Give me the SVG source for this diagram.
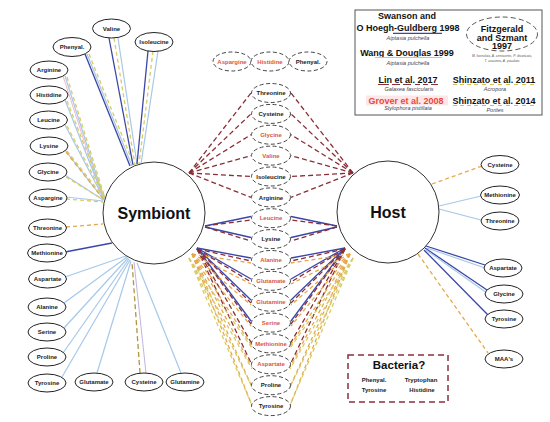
<svg xmlns="http://www.w3.org/2000/svg" width="550" height="422" viewBox="0 0 550 422">
<style>
.e{fill:#fff;stroke:#222;stroke-width:1}
.ed{fill:#fff;stroke:#444;stroke-width:1;stroke-dasharray:4 2.5}
.t{font-family:'Liberation Sans',Arial,sans-serif;font-weight:bold;font-size:6px;text-anchor:middle;fill:#222}
.r{fill:#d9583e}
.big{font-family:'Liberation Sans',Arial,sans-serif;font-weight:bold;font-size:16px;text-anchor:middle;fill:#111}
.lg{font-family:'Liberation Sans',Arial,sans-serif;font-weight:bold;font-size:9px;text-anchor:middle;fill:#111}
.sp{font-family:'Liberation Sans',Arial,sans-serif;font-style:italic;font-size:5.5px;text-anchor:middle;fill:#445}
.tiny{font-family:'Liberation Sans',Arial,sans-serif;font-style:italic;font-size:3.3px;text-anchor:middle;fill:#555}
.db{stroke:#3a46a8;stroke-width:1.3;fill:none}
.lb{stroke:#a6c8ea;stroke-width:1.2;fill:none}
.rd{stroke:#8a2f35;stroke-width:1.3;stroke-dasharray:5 3;fill:none}
.ye{stroke:#d8cc66;stroke-width:1.3;stroke-dasharray:4 3;fill:none}
.or{stroke:#e6a84a;stroke-width:1.3;stroke-dasharray:4 3;fill:none}
.pk{stroke:#f2b8c6;stroke-width:1;fill:none}
.lv{stroke:#c0b4e0;stroke-width:1;fill:none}
.ol{stroke:#b09540;stroke-width:1.3;stroke-dasharray:5 3;fill:none}
</style>
<rect width="550" height="422" fill="#fff"/>
<g id="connectors">
<line class="db" x1="85" y1="54" x2="130" y2="166"/>
<line class="lb" x1="87" y1="54" x2="132" y2="166"/>
<line class="ye" x1="89" y1="54" x2="134" y2="165"/>
<line class="db" x1="109" y1="38" x2="133" y2="165"/>
<line class="ye" x1="114" y1="38" x2="135" y2="165"/>
<line class="lb" x1="118" y1="38" x2="137" y2="164"/>
<line class="db" x1="148" y1="51" x2="137" y2="164"/>
<line class="ye" x1="153" y1="51" x2="139" y2="164"/>
<line class="lb" x1="158" y1="51" x2="141" y2="164"/>
<line class="pk" x1="63" y1="76" x2="103" y2="199"/>
<line class="lb" x1="65" y1="76" x2="104" y2="199"/>
<line class="ye" x1="67" y1="77" x2="105" y2="198"/>
<line class="lb" x1="65" y1="100" x2="104" y2="199"/>
<line class="ye" x1="67" y1="101" x2="105" y2="198"/>
<line class="lb" x1="65" y1="125" x2="104" y2="199"/>
<line class="ye" x1="67" y1="126" x2="105" y2="198"/>
<line class="lb" x1="65" y1="150" x2="104" y2="200"/>
<line class="ye" x1="67" y1="151" x2="105" y2="199"/>
<line class="or" x1="66" y1="152" x2="104" y2="200"/>
<line class="lb" x1="65" y1="175" x2="103" y2="200"/>
<line class="ye" x1="66" y1="177" x2="104" y2="200"/>
<line class="lb" x1="66" y1="197" x2="103" y2="201"/>
<line class="ye" x1="66" y1="199" x2="103" y2="202"/>
<line class="or" x1="66" y1="227" x2="103" y2="224"/>
<line class="db" x1="65" y1="252" x2="112" y2="243"/>
<line class="lb" x1="65" y1="277" x2="126" y2="256"/>
<line class="lb" x1="64" y1="303" x2="127" y2="257"/>
<line class="lb" x1="64" y1="328" x2="128" y2="258"/>
<line class="lb" x1="63" y1="353" x2="129" y2="259"/>
<line class="lb" x1="62" y1="377" x2="130" y2="260"/>
<line class="lb" x1="97" y1="373" x2="131" y2="261"/>
<line class="ol" x1="140" y1="373" x2="132" y2="262"/>
<line class="lv" x1="146" y1="373" x2="134" y2="262"/>
<line class="lb" x1="181" y1="373" x2="137" y2="263"/>
<line class="or" x1="432" y1="184" x2="482" y2="166"/>
<line class="lb" x1="439" y1="206" x2="481" y2="196"/>
<line class="lb" x1="439" y1="209" x2="481" y2="220"/>
<line class="db" x1="426" y1="246" x2="485" y2="265"/>
<line class="lb" x1="427" y1="248" x2="485" y2="268"/>
<line class="db" x1="425" y1="248" x2="487" y2="290"/>
<line class="lb" x1="426" y1="250" x2="487" y2="293"/>
<line class="db" x1="424" y1="250" x2="488" y2="315"/>
<line class="or" x1="418" y1="254" x2="488" y2="353"/>
<line class="rd" x1="189" y1="173" x2="251" y2="93"/>
<line class="rd" x1="189" y1="173" x2="251" y2="113.9"/>
<line class="rd" x1="189" y1="173" x2="251" y2="134.7"/>
<line class="rd" x1="189" y1="173" x2="251" y2="155.6"/>
<line class="rd" x1="189" y1="173" x2="251" y2="176.5"/>
<line class="rd" x1="189" y1="173" x2="251" y2="197.4"/>
<line class="db" x1="205" y1="226" x2="251" y2="216.5"/>
<line class="rd" x1="205" y1="226" x2="251" y2="220"/>
<line class="db" x1="205" y1="227" x2="251" y2="237.5"/>
<line class="rd" x1="205" y1="227" x2="251" y2="241"/>
<line class="db" x1="197" y1="248" x2="251" y2="258"/>
<line class="db" x1="197" y1="248" x2="251" y2="279"/>
<line class="db" x1="197" y1="248" x2="251" y2="300"/>
<line class="db" x1="197" y1="248" x2="251" y2="321"/>
<line class="rd" x1="197" y1="249" x2="251" y2="261"/>
<line class="rd" x1="197" y1="249" x2="251" y2="282"/>
<line class="rd" x1="197" y1="249" x2="251" y2="303"/>
<line class="rd" x1="197" y1="249" x2="251" y2="324"/>
<line class="rd" x1="197" y1="249" x2="252" y2="344"/>
<line class="rd" x1="197" y1="249" x2="252" y2="365"/>
<line class="or" x1="192" y1="254" x2="251" y2="263"/>
<line class="or" x1="192" y1="254" x2="251" y2="284"/>
<line class="or" x1="192" y1="254" x2="251" y2="305"/>
<line class="or" x1="192" y1="254" x2="251" y2="326"/>
<line class="or" x1="192" y1="254" x2="252" y2="346"/>
<line class="or" x1="192" y1="254" x2="252" y2="367"/>
<line class="or" x1="192" y1="254" x2="252" y2="387"/>
<line class="or" x1="192" y1="254" x2="253" y2="408"/>
<line class="ye" x1="189" y1="258" x2="252" y2="348"/>
<line class="ye" x1="189" y1="258" x2="252" y2="369"/>
<line class="ye" x1="189" y1="258" x2="253" y2="389"/>
<line class="ye" x1="189" y1="258" x2="254" y2="410"/>
<line class="rd" x1="353" y1="173" x2="291" y2="93"/>
<line class="rd" x1="353" y1="173" x2="291" y2="113.9"/>
<line class="rd" x1="353" y1="173" x2="291" y2="134.7"/>
<line class="rd" x1="353" y1="173" x2="291" y2="155.6"/>
<line class="rd" x1="353" y1="173" x2="291" y2="176.5"/>
<line class="rd" x1="353" y1="173" x2="291" y2="197.4"/>
<line class="db" x1="337" y1="226" x2="291" y2="216.5"/>
<line class="rd" x1="337" y1="226" x2="291" y2="220"/>
<line class="db" x1="337" y1="227" x2="291" y2="237.5"/>
<line class="rd" x1="337" y1="227" x2="291" y2="241"/>
<line class="db" x1="345" y1="248" x2="291" y2="258"/>
<line class="db" x1="345" y1="248" x2="291" y2="279"/>
<line class="db" x1="345" y1="248" x2="291" y2="300"/>
<line class="db" x1="345" y1="248" x2="291" y2="321"/>
<line class="rd" x1="345" y1="249" x2="291" y2="261"/>
<line class="rd" x1="345" y1="249" x2="291" y2="282"/>
<line class="rd" x1="345" y1="249" x2="291" y2="303"/>
<line class="rd" x1="345" y1="249" x2="291" y2="324"/>
<line class="rd" x1="345" y1="249" x2="290" y2="344"/>
<line class="rd" x1="345" y1="249" x2="290" y2="365"/>
<line class="or" x1="350" y1="254" x2="291" y2="263"/>
<line class="or" x1="350" y1="254" x2="291" y2="284"/>
<line class="or" x1="350" y1="254" x2="291" y2="305"/>
<line class="or" x1="350" y1="254" x2="291" y2="326"/>
<line class="or" x1="350" y1="254" x2="290" y2="346"/>
<line class="or" x1="350" y1="254" x2="290" y2="367"/>
<line class="or" x1="350" y1="254" x2="290" y2="387"/>
<line class="or" x1="350" y1="254" x2="289" y2="408"/>
<line class="ye" x1="353" y1="258" x2="290" y2="348"/>
<line class="ye" x1="353" y1="258" x2="290" y2="369"/>
<line class="ye" x1="353" y1="258" x2="289" y2="389"/>
<line class="ye" x1="353" y1="258" x2="288" y2="410"/>
</g>
<g id="symbiont"><circle cx="154" cy="213" r="51" fill="#fff" stroke="#333" stroke-width="1"/><text class="big" x="154" y="219">Symbiont</text></g>
<g id="host"><circle cx="388" cy="212" r="51" fill="#fff" stroke="#333" stroke-width="1"/><text class="big" x="388" y="218">Host</text></g>
<g id="l-phenyal"><ellipse class="e" cx="72" cy="47" rx="19" ry="9.5"/><text class="t" x="72" y="49.1">Phenyal.</text></g>
<g id="l-valine"><ellipse class="e" cx="111.5" cy="28.5" rx="19" ry="9.5"/><text class="t" x="111.5" y="30.6">Valine</text></g>
<g id="l-isoleucine"><ellipse class="e" cx="154" cy="42" rx="19" ry="9.5"/><text class="t" x="154" y="44.1">Isoleucine</text></g>
<g id="l-arginine"><ellipse class="e" cx="49" cy="70" rx="19" ry="9"/><text class="t" x="49" y="72.1">Arginine</text></g>
<g id="l-histidine"><ellipse class="e" cx="49" cy="95" rx="19" ry="9"/><text class="t" x="49" y="97.1">Histidine</text></g>
<g id="l-leucine"><ellipse class="e" cx="48.5" cy="120" rx="19" ry="9"/><text class="t" x="48.5" y="122.1">Leucine</text></g>
<g id="l-lysine"><ellipse class="e" cx="49" cy="146" rx="19" ry="9"/><text class="t" x="49" y="148.1">Lysine</text></g>
<g id="l-glycine"><ellipse class="e" cx="48" cy="172" rx="19" ry="9"/><text class="t" x="48" y="174.1">Glycine</text></g>
<g id="l-aspargine"><ellipse class="e" cx="48" cy="198" rx="19" ry="9"/><text class="t" x="48" y="200.1">Aspargine</text></g>
<g id="l-threonine"><ellipse class="e" cx="47.5" cy="228" rx="19" ry="9"/><text class="t" x="47.5" y="230.1">Threonine</text></g>
<g id="l-methionine"><ellipse class="e" cx="47" cy="253" rx="19.5" ry="9"/><text class="t" x="47" y="255.1">Methionine</text></g>
<g id="l-aspartate"><ellipse class="e" cx="47.5" cy="279" rx="19" ry="9"/><text class="t" x="47.5" y="281.1">Aspartate</text></g>
<g id="l-alanine"><ellipse class="e" cx="47" cy="307" rx="19" ry="9"/><text class="t" x="47" y="309.1">Alanine</text></g>
<g id="l-serine"><ellipse class="e" cx="47" cy="332" rx="19" ry="9"/><text class="t" x="47" y="334.1">Serine</text></g>
<g id="l-proline"><ellipse class="e" cx="47" cy="357" rx="19" ry="9"/><text class="t" x="47" y="359.1">Proline</text></g>
<g id="l-tyrosine"><ellipse class="e" cx="47" cy="383" rx="19" ry="9"/><text class="t" x="47" y="385.1">Tyrosine</text></g>
<g id="l-glutamate"><ellipse class="e" cx="94" cy="382" rx="19" ry="9"/><text class="t" x="94" y="384.1">Glutamate</text></g>
<g id="l-cysteine"><ellipse class="e" cx="144" cy="382" rx="19" ry="9"/><text class="t" x="144" y="384.1">Cysteine</text></g>
<g id="l-glutamine"><ellipse class="e" cx="185" cy="382" rx="19" ry="9"/><text class="t" x="185" y="384.1">Glutamine</text></g>
<g id="t-aspargine"><ellipse class="ed" cx="232" cy="61.5" rx="19" ry="9.5"/><text class="t r" x="232" y="63.6">Aspargine</text></g>
<g id="t-histidine"><ellipse class="ed" cx="270" cy="61.5" rx="19" ry="9.5"/><text class="t r" x="270" y="63.6">Histidine</text></g>
<g id="t-phenyal"><ellipse class="ed" cx="308" cy="61.5" rx="19" ry="9.5"/><text class="t" x="308" y="63.6">Phenyal.</text></g>
<g id="c-threonine"><ellipse class="ed" cx="271" cy="93" rx="19.5" ry="9.5"/><text class="t" x="271" y="95.1">Threonine</text></g>
<g id="c-cysteine"><ellipse class="ed" cx="271" cy="113.9" rx="19.5" ry="9.5"/><text class="t" x="271" y="116">Cysteine</text></g>
<g id="c-glycine"><ellipse class="ed" cx="271" cy="134.7" rx="19.5" ry="9.5"/><text class="t r" x="271" y="136.8">Glycine</text></g>
<g id="c-valine"><ellipse class="ed" cx="271" cy="155.6" rx="19.5" ry="9.5"/><text class="t r" x="271" y="157.7">Valine</text></g>
<g id="c-isoleucine"><ellipse class="ed" cx="271" cy="176.5" rx="19.5" ry="9.5"/><text class="t" x="271" y="178.6">Isoleucine</text></g>
<g id="c-arginine"><ellipse class="ed" cx="271" cy="197.4" rx="19.5" ry="9.5"/><text class="t" x="271" y="199.5">Arginine</text></g>
<g id="c-leucine"><ellipse class="ed" cx="271" cy="218.2" rx="19.5" ry="9.5"/><text class="t r" x="271" y="220.3">Leucine</text></g>
<g id="c-lysine"><ellipse class="ed" cx="271" cy="239.1" rx="19.5" ry="9.5"/><text class="t" x="271" y="241.2">Lysine</text></g>
<g id="c-alanine"><ellipse class="ed" cx="271" cy="260" rx="19.5" ry="9.5"/><text class="t r" x="271" y="262.1">Alanine</text></g>
<g id="c-glutamate"><ellipse class="ed" cx="271" cy="280.8" rx="19.5" ry="9.5"/><text class="t r" x="271" y="282.9">Glutamate</text></g>
<g id="c-glutamine"><ellipse class="ed" cx="271" cy="301.7" rx="19.5" ry="9.5"/><text class="t r" x="271" y="303.8">Glutamine</text></g>
<g id="c-serine"><ellipse class="ed" cx="271" cy="322.6" rx="19.5" ry="9.5"/><text class="t r" x="271" y="324.7">Serine</text></g>
<g id="c-methionine"><ellipse class="ed" cx="271" cy="343.4" rx="19.5" ry="9.5"/><text class="t r" x="271" y="345.5">Methionine</text></g>
<g id="c-aspartate"><ellipse class="ed" cx="271" cy="364.3" rx="19.5" ry="9.5"/><text class="t r" x="271" y="366.4">Aspartate</text></g>
<g id="c-proline"><ellipse class="ed" cx="271" cy="385.2" rx="19.5" ry="9.5"/><text class="t" x="271" y="387.3">Proline</text></g>
<g id="c-tyrosine"><ellipse class="ed" cx="271" cy="406.1" rx="19.5" ry="9.5"/><text class="t" x="271" y="408.2">Tyrosine</text></g>
<g id="r-cysteine"><ellipse class="e" cx="500" cy="164.5" rx="19" ry="9"/><text class="t" x="500" y="166.6">Cysteine</text></g>
<g id="r-methionine"><ellipse class="e" cx="500" cy="195" rx="19.5" ry="9"/><text class="t" x="500" y="197.1">Methionine</text></g>
<g id="r-threonine"><ellipse class="e" cx="500" cy="221" rx="19" ry="9"/><text class="t" x="500" y="223.1">Threonine</text></g>
<g id="r-aspartate"><ellipse class="e" cx="503" cy="268" rx="19" ry="9"/><text class="t" x="503" y="270.1">Aspartate</text></g>
<g id="r-glycine"><ellipse class="e" cx="504" cy="294" rx="19" ry="9"/><text class="t" x="504" y="296.1">Glycine</text></g>
<g id="r-tyrosine"><ellipse class="e" cx="504" cy="319" rx="19" ry="9"/><text class="t" x="504" y="321.1">Tyrosine</text></g>
<g id="r-maas"><ellipse class="e" cx="504" cy="359" rx="19" ry="9"/><text class="t" x="504" y="361.1">MAA's</text></g>
<g id="legend">
<rect x="355" y="10" width="187" height="105" fill="#fff" stroke="#555" stroke-width="1"/>
<text class="lg" x="407" y="19">Swanson and</text>
<text class="lg" x="408" y="30.5">O Hoegh-Guldberg 1998</text>
<line x1="393" y1="33.3" x2="442" y2="33.3" stroke="#3a46a8" stroke-width="1.2"/>
<text class="sp" x="408" y="40">Aiptasia pulchella</text>
<text class="lg" x="407" y="55.5">Wang &amp; Douglas 1999</text>
<line x1="375" y1="57.5" x2="442" y2="57.5" stroke="#a6c8ea" stroke-width="1.2"/>
<text class="sp" x="408" y="64.5">Aiptasia pulchella</text>
<text class="lg" x="408" y="82.5">Lin et al. 2017</text>
<path d="M378 84.5h11M392 84.5h8M403 84.5h8M415 84.5h5M423 84.5h5M431 84.5h5M434 84.5h4" stroke="#8a2f35" stroke-width="1"/>
<text class="sp" x="409" y="90.5">Galaxea fascicularis</text>
<rect x="366" y="95.5" width="82" height="10" fill="#fde6e8"/>
<text class="lg" x="406" y="103.5" style="fill:#e8493b">Grover et al. 2008</text>
<text class="sp" x="408" y="110">Stylophora pistillata</text>
<ellipse cx="502" cy="34" rx="35.5" ry="17" fill="none" stroke="#555" stroke-width="1" stroke-dasharray="5 3"/>
<text class="lg" x="502" y="31.5">Fitzgerald</text>
<text class="lg" x="502" y="40.5">and Szmant</text>
<text class="lg" x="502" y="49">1997</text>
<text class="tiny" x="502" y="56.5">M. faveolata, A. cervicornis, P. divaricata,</text>
<text class="tiny" x="502" y="61.5">T. coccinea, A. poculata</text>
<text class="lg" x="494" y="82.5">Shinzato et al. 2011</text>
<path d="M453 84.5h4M460 84.5h4M467 84.5h4M474 84.5h4M482 84.5h4M490 84.5h4M498 84.5h4M506 84.5h4M514 84.5h4M522 84.5h4M530 84.5h4" stroke="#d8c050" stroke-width="1"/>
<text class="sp" x="495" y="90.5">Acropora</text>
<text class="lg" x="494" y="103.5">Shinzato et al. 2014</text>
<path d="M453 105.5h4M460 105.5h4M467 105.5h4M474 105.5h4M482 105.5h4M490 105.5h4M498 105.5h4M506 105.5h4M514 105.5h4M522 105.5h4M530 105.5h4" stroke="#e6b84a" stroke-width="1"/>
<text class="sp" x="495" y="111.5">Porites</text>
</g>
<g id="bacteria">
<rect x="348" y="355" width="100" height="47" fill="#fff" stroke="#8a2f40" stroke-width="1.5" stroke-dasharray="6 4"/>
<text x="399" y="369" style="font-family:'Liberation Sans',Arial,sans-serif;font-weight:bold;font-size:11.5px;text-anchor:middle;fill:#111">Bacteria?</text>
<text class="t" x="374" y="382">Phenyal.</text>
<text class="t" x="374" y="392">Tyrosine</text>
<text class="t" x="421" y="382">Tryptophan</text>
<text class="t" x="422" y="392">Histidine</text>
</g>
</svg>
